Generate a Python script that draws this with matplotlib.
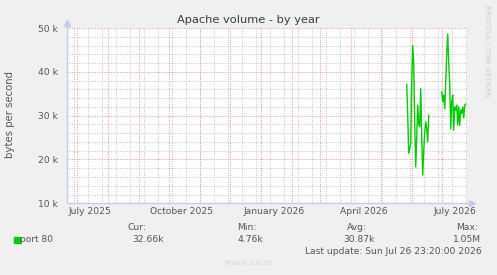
import numpy as np
import pandas as pd
import matplotlib
matplotlib.use("Agg")
import matplotlib.pyplot as plt
import matplotlib.dates as mdates
from matplotlib.ticker import FixedLocator, MultipleLocator, FuncFormatter

# --- data ---
dates = [
    "2026-05-28", "2026-05-29", "2026-05-30", "2026-06-01", "2026-06-02",
    "2026-06-03", "2026-06-04", "2026-06-05", "2026-06-06", "2026-06-07",
    "2026-06-08", "2026-06-09", "2026-06-10", "2026-06-11", "2026-06-12",
    "2026-06-13", "2026-06-14", "2026-06-15", "2026-06-16", "2026-06-17",
    "2026-06-18", "2026-06-19", "2026-06-25",
    "2026-07-02", "2026-07-03", "2026-07-04", "2026-07-05", "2026-07-06",
    "2026-07-07", "2026-07-08", "2026-07-09", "2026-07-10", "2026-07-11",
    "2026-07-12", "2026-07-13", "2026-07-14", "2026-07-15", "2026-07-16",
    "2026-07-17", "2026-07-18", "2026-07-19", "2026-07-20", "2026-07-21",
    "2026-07-22", "2026-07-23", "2026-07-24", "2026-07-25", "2026-07-26",
]
port80_k = [
    37.1, 30.0, 21.4, 23.6, 38.0,
    46.0, 42.0, 28.0, 18.3, 25.0,
    32.4, 28.0, 27.5, 36.2, 25.0,
    16.4, 22.0, 26.3, 28.6, 27.0,
    24.0, 30.1, np.nan,
    35.4, 33.2, 34.7, 31.6, 38.0,
    44.0, 48.6, 42.0, 37.0, 27.0,
    33.2, 34.7, 26.7, 32.0, 31.3,
    32.4, 27.8, 32.0, 27.8, 31.3,
    30.5, 32.0, 29.5, 32.4, 32.66,
]
y_ticks = [10000, 20000, 30000, 40000, 50000]
legend_cols = ["Cur:", "Min:", "Avg:", "Max:"]
legend_vals = ["32.66k", "4.76k", "30.87k", "1.05M"]
series_name = "port 80"
last_update = "Last update: Sun Jul 26 23:20:00 2026"

end = pd.Timestamp("2026-07-26 23:20")
start = end - pd.Timedelta(days=400)

W, H = 497, 275
BG = "#F0F0F0"
TXT = "#555555"
RED = "#EFA2A2"
GRAY = "#CBCBCB"
AXC = "#C8C8F5"
GREEN = "#00CC00"

fig = plt.figure(figsize=(W / 100, H / 100), dpi=100, facecolor=BG)
ax = fig.add_axes([66.7 / W, (H - 203.3) / H, 400 / W, 175.3 / H])
ax.set_facecolor("white")

x = pd.to_datetime(dates)
y = np.array(port80_k) * 1000
ax.plot(x, y, color=GREEN, lw=1.0, zorder=3)

ax.set_xlim(start, end)
ax.set_ylim(10000, 50000)

# grid
dot = (0, (1, 1.2))
for m in pd.date_range(start, end, freq="MS"):
    ax.axvline(m, color=RED, lw=0.75, ls=dot, zorder=1)
for w in pd.date_range("2025-06-29", end, freq="14D"):
    ax.axvline(w, color=GRAY, lw=0.75, ls=dot, zorder=0)
ax.yaxis.set_major_locator(FixedLocator(y_ticks))
ax.yaxis.set_minor_locator(MultipleLocator(2000))
ax.yaxis.grid(True, which="major", color=RED, lw=0.75, ls=dot, zorder=1)
ax.yaxis.grid(True, which="minor", color=GRAY, lw=0.75, ls=dot, zorder=0)
ax.yaxis.set_major_formatter(FuncFormatter(lambda v, p: f"{v / 1000:.0f} k"))

ax.xaxis.set_major_locator(mdates.MonthLocator(bymonth=[1, 4, 7, 10], bymonthday=15))
ax.xaxis.set_major_formatter(mdates.DateFormatter("%B %Y"))
ax.tick_params(axis="both", which="both", length=0, labelsize=6.6, labelcolor=TXT)
ax.tick_params(axis="y", pad=6)
ax.tick_params(axis="x", pad=3)

for s in ax.spines.values():
    s.set_visible(False)
ax.plot([0, 1.012], [0, 0], color=AXC, lw=1, transform=ax.transAxes, clip_on=False)
ax.plot([0, 0], [0, 1.03], color=AXC, lw=1, transform=ax.transAxes, clip_on=False)
ax.plot([1.012], [0], marker=">", ms=5, color=AXC, mec=AXC, transform=ax.transAxes, clip_on=False)
ax.plot([0], [1.03], marker="^", ms=5, color=AXC, mec=AXC, transform=ax.transAxes, clip_on=False)

# texts
def ft(px, py, s, **kw):
    fig.text(px / W, 1 - py / H, s, **kw)

ft(248.5, 20, "Apache volume - by year", ha="center", va="center", fontsize=8.2, color="#3C3C3C")
ft(10, 115, "bytes per second", ha="center", va="center", rotation=90, fontsize=7.3, color=TXT)
ft(487, 51, "RRDTOOL / TOBI OETIKER", ha="center", va="center", rotation=270, fontsize=5.1, color="#CCCCCC")
ft(248.5, 263, "Munin 2.0.76", ha="center", va="center", fontsize=5.2, color="#D4D4D4")

fig.patches.append(plt.Rectangle((14 / W, 1 - 243 / H), 6 / W, 6 / H, color=GREEN,
                                 transform=fig.transFigure, figure=fig))
ft(20.5, 239, series_name, ha="left", va="center", fontsize=6.5, color=TXT)
for lab, lx in zip(legend_cols, [128, 237, 347, 456]):
    ft(lx, 227, lab, ha="left", va="center", fontsize=6.6, color=TXT)
for val, vx in zip(legend_vals, [132, 238, 343, 453]):
    ft(vx, 239, val, ha="left", va="center", fontsize=6.6, color=TXT)
ft(482, 251, last_update, ha="right", va="center", fontsize=6.6, color=TXT)

fig.savefig("out.png", dpi=100, facecolor=BG)
